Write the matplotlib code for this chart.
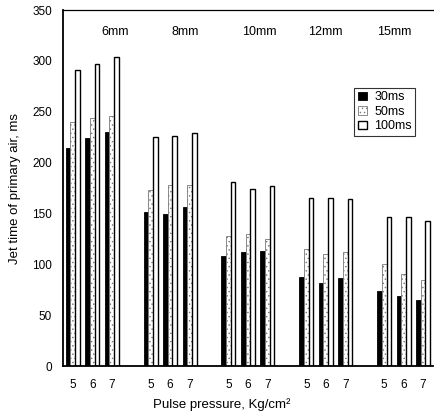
import matplotlib
matplotlib.use('agg')
import matplotlib.pyplot as plt
import numpy as np

plt.rcParams['font.family'] = ['Liberation Sans', 'DejaVu Sans']
plt.rcParams['hatch.linewidth'] = 0.5

# nozzle diameters and pulse pressures
nozzles = ['6mm', '8mm', '10mm', '12mm', '15mm']
pressures = ['5', '6', '7']
series = ['30ms', '50ms', '100ms']

# jet time (ms), one row per nozzle, columns = pressure 5, 6, 7
jet_30 = [[214, 224, 230], [152, 150, 156], [108, 112, 113], [88, 82, 87], [74, 69, 65]]
jet_50 = [[240, 244, 246], [173, 178, 178], [128, 130, 125], [115, 110, 112], [100, 91, 85]]
jet_100 = [[291, 297, 304], [225, 226, 229], [181, 174, 177], [165, 165, 164], [147, 147, 143]]

# where the nozzle labels sit (x in cluster units, y in data units)
label_x = [2.2, 5.8, 9.6, 13.0, 16.5]
label_y = 328

fig = plt.figure(figsize=(4.35, 4.19), dpi=100)
ax = fig.add_axes([0.145, 0.126, 0.85, 0.85])

w = 0.24
xs = []
for g in range(len(nozzles)):
    for p in range(len(pressures)):
        xs.append(4 * g + p)
xs = np.array(xs, dtype=float)

v30 = np.array(jet_30).ravel()
v50 = np.array(jet_50).ravel()
v100 = np.array(jet_100).ravel()

ax.bar(xs - w, v30, w, color='black', edgecolor='black', linewidth=0.6, label=series[0])
ax.bar(xs, v50, w, color='white', edgecolor='#777777', hatch='....', linewidth=0.6, label=series[1])
ax.bar(xs + w, v100, w, color='white', edgecolor='black', linewidth=1.0, label=series[2])

ax.set_xlim(-0.5, 18.5)
ax.set_ylim(0, 350)
ax.set_yticks(range(0, 351, 50))
ax.set_xticks(xs)
ax.set_xticklabels(pressures * len(nozzles))
ax.tick_params(axis='both', length=0, labelsize=8.5)
ax.tick_params(axis='x', pad=9)
ax.tick_params(axis='y', pad=8)

for s in ['left', 'bottom']:
    ax.spines[s].set_linewidth(1.3)
ax.spines['top'].set_linewidth(0.9)
ax.spines['right'].set_visible(False)

for name, lx in zip(nozzles, label_x):
    ax.text(lx, label_y, name, ha='center', va='center', fontsize=9)

ax.set_ylabel('Jet time of primary air, ms', fontsize=9.5)
ax.set_xlabel('Pulse pressure, Kg/cm²', fontsize=9.5)
ax.yaxis.set_label_coords(-0.115, 0.5)
ax.xaxis.set_label_coords(0.428, -0.09)

leg = ax.legend(loc='upper right', bbox_to_anchor=(0.97, 0.8), fontsize=9,
                frameon=True, fancybox=False, handlelength=0.7, handleheight=0.7,
                handletextpad=0.6, borderpad=0.3, labelspacing=0.2)
leg.get_frame().set_edgecolor('black')
leg.get_frame().set_linewidth(0.8)

fig.savefig('out.png', dpi=100)
